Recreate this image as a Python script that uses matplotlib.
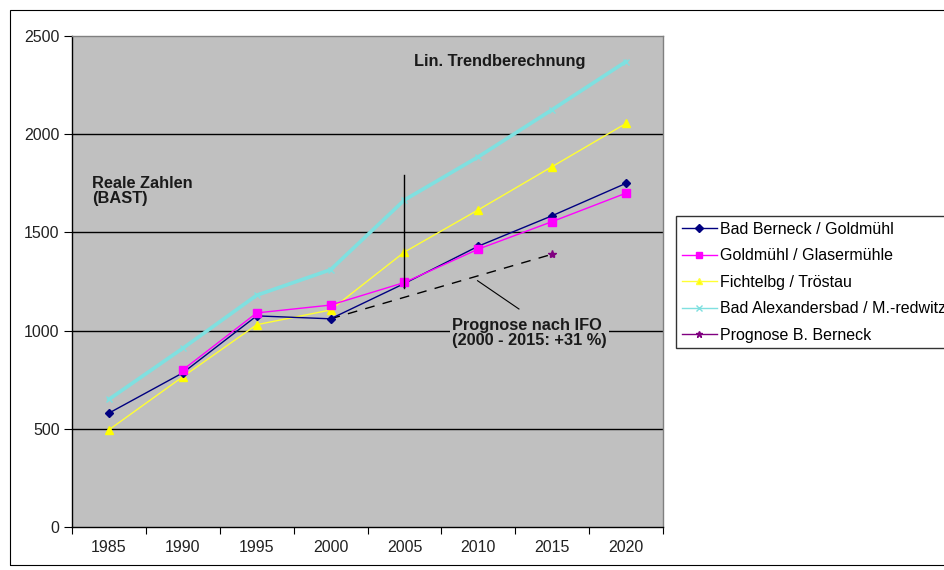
import numpy as np
import matplotlib
matplotlib.use("Agg")
import matplotlib.pyplot as plt
from matplotlib.lines import Line2D
from matplotlib.patches import Rectangle

plt.rcParams['font.family'] = ['Liberation Sans', 'DejaVu Sans']

years = ["1985", "1990", "1995", "2000", "2005", "2010", "2015", "2020"]
bad_berneck = [580, 785, 1075, 1060, 1240, 1430, 1585, 1750]
goldmuehl = [np.nan, 800, 1090, 1130, 1245, 1415, 1555, 1700]
fichtelbg = [495, 765, 1030, 1105, 1400, 1615, 1835, 2055]
alexandersbad = [650, 910, 1180, 1310, 1665, 1885, 2125, 2370]
prognose = [np.nan, np.nan, np.nan, 1060, np.nan, np.nan, 1389, np.nan]

labels = ["Bad Berneck / Goldmühl", "Goldmühl / Glasermühle",
          "Fichtelbg / Tröstau", "Bad Alexandersbad / M.-redwitz",
          "Prognose B. Berneck"]

fig = plt.figure(figsize=(9.44, 5.70), dpi=100)
fig.patch.set_facecolor("white")
ax = fig.add_axes([72 / 944, 43 / 570, 591 / 944, 491 / 570])
ax.set_facecolor("#C0C0C0")

x = np.arange(len(years)) + 0.5

ax.plot(x, alexandersbad, color="#7FE0E0", lw=2.6, marker="x", ms=4,
        mec="#7FE0E0", zorder=3, solid_joinstyle="round")
ax.plot(x, fichtelbg, color="#FFFF33", lw=1.0, marker="^", ms=6,
        mfc="#FFFF00", mec="#FFFF00", zorder=4)
ax.plot(x, bad_berneck, color="#000080", lw=1.0, marker="D", ms=4.5,
        mfc="#000080", mec="#000080", zorder=5)
ax.plot(x, goldmuehl, color="#FF00FF", lw=1.0, marker="s", ms=5.5,
        mfc="#FF00FF", mec="#FF00FF", zorder=6)

# IFO forecast from 2000 to 2015, drawn as a dashed segment
prog = np.array(prognose, dtype=float)
m = ~np.isnan(prog)
ax.plot(x[m], prog[m], color="black", lw=1.0, ls=(0, (7, 6)), zorder=4)
ax.plot(x[m][-1:], prog[m][-1:], ls="none", marker="*", ms=6,
        color="#800080", zorder=7)

# marker separating real counts and trend calculation
ax.plot([x[4], x[4]], [1215, 1790], color="black", lw=1.0, zorder=7)
ax.plot([6.05, 5.49], [1110, 1254], color="black", lw=0.8, zorder=7)

ax.text(5.79, 2368, "Lin. Trendberechnung", fontsize=11.8, fontweight="bold",
        ha="center", va="center", color="#1a1a1a", zorder=8)
ax.text(0.27, 1711, "Reale Zahlen\n(BAST)", fontsize=11.8, fontweight="bold",
        ha="left", va="center", color="#1a1a1a", linespacing=1.0, zorder=8)
ax.text(5.14, 990, "Prognose nach IFO\n(2000 - 2015: +31 %)", fontsize=11.8,
        fontweight="bold", ha="left", va="center", color="#1a1a1a",
        linespacing=1.0, zorder=8,
        bbox=dict(facecolor="#C0C0C0", edgecolor="none", pad=1.5))

ax.set_xlim(0, len(years))
ax.set_ylim(0, 2500)
ax.set_yticks(np.arange(0, 2501, 500))
ax.set_xticks(np.arange(0, len(years) + 1))
ax.set_xticklabels([])
ax.set_xticks(x, minor=True)
ax.set_xticklabels(years, minor=True)
ax.tick_params(axis="x", which="major", length=5, direction="out", color="black")
ax.tick_params(axis="x", which="minor", length=0, pad=9, labelsize=11.5,
               labelcolor="#222222")
ax.tick_params(axis="y", length=6, direction="out", pad=3, labelsize=11.5,
               labelcolor="#222222")

for yv in range(500, 2001, 500):
    ax.axhline(yv, color="black", lw=1.0, zorder=1)

for s in ("top", "right"):
    ax.spines[s].set_color("#808080")
    ax.spines[s].set_linewidth(1.0)
for s in ("left", "bottom"):
    ax.spines[s].set_color("black")
    ax.spines[s].set_linewidth(1.0)

handles = [
    Line2D([], [], color="#000080", lw=1.0, marker="D", ms=4, mfc="#000080"),
    Line2D([], [], color="#FF00FF", lw=1.0, marker="s", ms=5, mfc="#FF00FF"),
    Line2D([], [], color="#FFFF33", lw=1.0, marker="^", ms=5, mfc="#FFFF00"),
    Line2D([], [], color="#7FE0E0", lw=1.0, marker="x", ms=4),
    Line2D([], [], color="#800080", lw=1.0, marker="*", ms=5),
]
leg = fig.legend(handles, labels, loc="upper left",
                 bbox_to_anchor=(676 / 944, 1 - 216 / 570),
                 fontsize=11.5, frameon=True, fancybox=False,
                 handlelength=2.2, handletextpad=0.2, borderpad=0.35,
                 labelspacing=0.72, borderaxespad=0)
leg.get_frame().set_edgecolor("black")
leg.get_frame().set_linewidth(1.0)

fig.add_artist(Rectangle((10 / 944, 5 / 570), 1.0, 555 / 570,
                         transform=fig.transFigure, fill=False,
                         edgecolor="black", lw=0.8))

fig.savefig("out.png", dpi=100)
